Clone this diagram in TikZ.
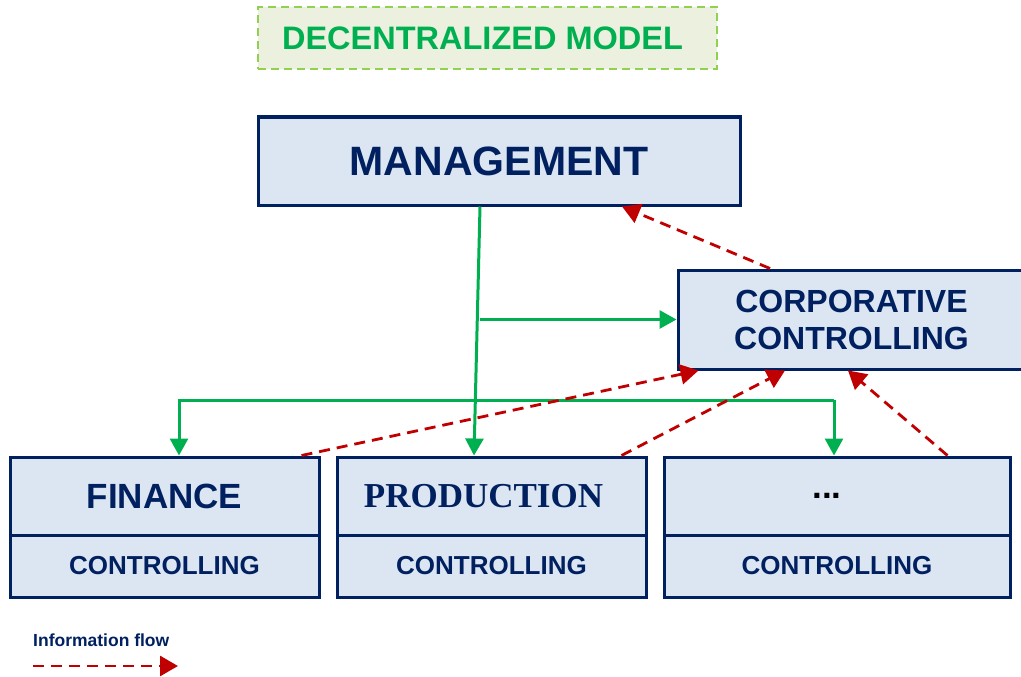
\documentclass[tikz,border=0pt]{standalone}
\usepackage{fontspec}
\setmainfont{Liberation Sans}
\newfontfamily\dcserif{Liberation Serif}
\usetikzlibrary{arrows.meta,positioning}

\definecolor{dcnavy}{HTML}{002060}
\definecolor{dcfill}{HTML}{DCE6F2}
\definecolor{dcgreen}{HTML}{00B050}
\definecolor{dclime}{HTML}{92D050}
\definecolor{dcpale}{HTML}{EBF1DE}
\definecolor{dcred}{HTML}{C00000}

\tikzset{dcbox/.style={rectangle,draw=dcnavy,line width=3pt,fill=dcfill,text=dcnavy,
                       font=\bfseries,inner sep=0pt,align=center},
         dctitle/.style={rectangle,draw=dclime,line width=2pt,dash pattern=on 8pt off 5pt,
                         fill=dcpale,inner sep=0pt},
         dcgo/.style={draw=dcgreen,line width=3pt,-{Triangle[length=17pt,width=18pt]}},
         dcinfo/.style={draw=dcred,line width=2.8pt,dash pattern=on 11pt off 7pt,
                        -{Triangle[length=18pt,width=20pt]}}}

\begin{document}
\begin{tikzpicture}[x=1pt,y=-1pt]
    \useasboundingbox (0,0) rectangle (1021,677);
    \node[dctitle,minimum width=459pt,minimum height=62pt] (model) at (487.5,38) {};
    \node[text=dcgreen,font=\bfseries\fontsize{32.5}{35}\selectfont] (modeltxt)
      at ([xshift=-5pt]model.center) {DECENTRALIZED MODEL};
    \node[dcbox,minimum width=482pt,minimum height=88pt,font=\bfseries\fontsize{41}{44}\selectfont]
      (mgmt) at (499,161) {MANAGEMENT};
    \node[dcbox,minimum width=347pt,minimum height=99pt,font=\bfseries\fontsize{32}{37}\selectfont]
      (corp) at (851.5,319.5) {CORPORATIVE\\CONTROLLING};
    % departments: upper part with the name, lower part with controlling
    \foreach \n/\x/\w/\t in {fin/164.5/309/FINANCE,prod/491.5/309/{\dcserif PRODUCTION\hspace*{16pt}},
                             etc/837/346/{\color{black}...\hspace*{20pt}}}
      {\node[dcbox,minimum width=\w pt,minimum height=78pt,font=\bfseries\fontsize{35}{38}\selectfont]
         (\n top) at (\x,496) {\t};
       \node[dcbox,minimum width=\w pt,minimum height=62pt,font=\bfseries\fontsize{26}{28}\selectfont]
         (\n bot) at (\x,566) {CONTROLLING};}
    % orders
    \coordinate (trunk) at ([xshift=-19pt]mgmt.south);
    \coordinate (busL) at (179,400); \coordinate (busR) at (834,400);
    \draw[dcgo] (trunk) -- ([xshift=-17.5pt]prodtop.north);
    \draw[dcgo] (trunk |- corp.west) -- (corp.west);
    \draw[dcgo] (busR) -- (busL) -- (busL |- fintop.north);
    \draw[dcgo] (busR) -- (busR |- etctop.north);
    % information flow
    \draw[dcinfo] ([xshift=-81.5pt]corp.north) -- ([xshift=123pt]mgmt.south);
    \draw[dcinfo] ([xshift=-19pt]fintop.north east) -- ([xshift=22pt]corp.south west);
    \draw[dcinfo] ([xshift=-26pt]prodtop.north east) -- ([xshift=-66.5pt]corp.south);
    \draw[dcinfo] ([xshift=-64pt]etctop.north east) -- ([xshift=-3.5pt]corp.south);
    % legend
    \node[anchor=west,text=dcnavy,font=\bfseries\fontsize{17.5}{19}\selectfont,inner sep=0pt]
      (legend) at (33,640) {Information flow};
    \coordinate (lgA) at (33,666); \coordinate (lgB) at (178,666);
    \draw[dcinfo] (lgA) -- (lgB);
\end{tikzpicture}
\end{document}
